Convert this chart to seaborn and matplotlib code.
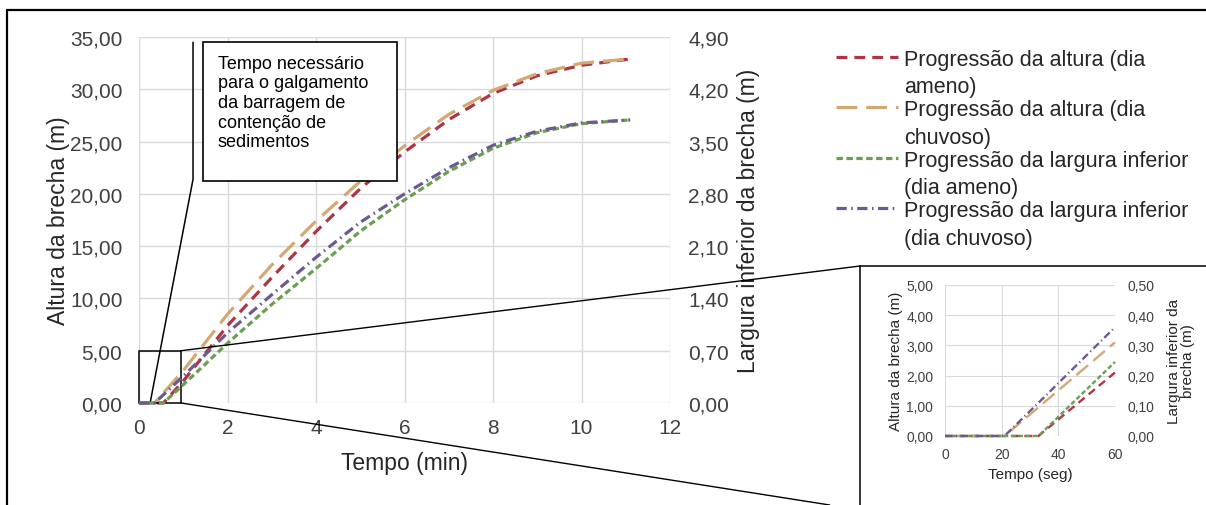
import matplotlib
matplotlib.use("Agg")
import matplotlib.pyplot as plt
import pandas as pd
import seaborn as sns
from matplotlib.legend_handler import HandlerLine2D
from matplotlib.lines import Line2D
from matplotlib.patches import ConnectionPatch, Rectangle
from matplotlib.ticker import FuncFormatter

# main chart, time in minutes
tempo_min = [0, 0.35, 0.55, 1, 2, 3, 4, 5, 6, 7, 8, 9, 10, 11.1]
altura_ameno = [0, 0, 0, 2.1, 7.4, 12.0, 16.4, 20.5, 24.0, 27.1, 29.6, 31.3, 32.3, 32.9]
altura_chuvoso = [0, 0, 0.95, 3.1, 8.5, 13.2, 17.4, 21.2, 24.6, 27.6, 29.9, 31.5, 32.5, 32.9]
largura_ameno = [0, 0, 0, 0.245, 0.80, 1.32, 1.80, 2.30, 2.72, 3.10, 3.41, 3.62, 3.74, 3.79]
largura_chuvoso = [0, 0, 0.11, 0.36, 0.94, 1.45, 1.95, 2.42, 2.80, 3.15, 3.45, 3.64, 3.75, 3.79]

# inset: first minute, in seconds
n_inset = 4
tempo_seg = [t * 60 for t in tempo_min[:n_inset]]

labels = [
    "Progressão da altura (dia\nameno)",
    "Progressão da altura (dia\nchuvoso)",
    "Progressão da largura inferior\n(dia ameno)",
    "Progressão da largura inferior\n(dia chuvoso)",
]
colors = ["#ad3546", "#d3a874", "#6a9f52", "#6c5a8e"]
styles = [(0, (3.4, 2.2)), (0, (6.5, 2.8)), (0, (2.0, 1.1)), (0, (3.2, 1.4, 0.5, 1.4))]

annot_text = "Tempo necessário\npara o galgamento\nda barragem de\ncontenção de\nsedimentos"

sns.set_style("white")
plt.rcParams["font.family"] = ["Liberation Sans", "DejaVu Sans"]

TXT = "#404040"
LAB = "#262626"
GRID = "#d9d9d9"


def comma(dec):
    return FuncFormatter(lambda v, p: f"{v:.{dec}f}".replace(".", ","))


def style_axes(ax, size, pad):
    for s in ax.spines.values():
        s.set_visible(False)
    ax.tick_params(length=0, labelsize=size, labelcolor=TXT, pad=pad)


def draw(ax, ax2, t, k=None, lw=2.3):
    series = [altura_ameno, altura_chuvoso, largura_ameno, largura_chuvoso]
    for i, vals in enumerate(series):
        target = ax if i < 2 else ax2
        y = vals if k is None else vals[:k]
        df = pd.DataFrame({"t": t, "v": y})
        sns.lineplot(data=df, x="t", y="v", ax=target, color=colors[i], lw=lw,
                     linestyle=styles[i], legend=False, clip_on=False, estimator=None, sort=False)


class TopLineHandler(HandlerLine2D):
    # put the legend sample next to the first line of a two-line label
    def create_artists(self, legend, orig_handle, xdescent, ydescent, width, height, fontsize, trans):
        arts = super().create_artists(legend, orig_handle, xdescent, ydescent, width, height,
                                      fontsize, trans)
        for a in arts:
            a.set_ydata([y + 0.78 * fontsize for y in a.get_ydata()])
        return arts


fig = plt.figure(figsize=(12.06, 5.06), dpi=100)

# main axes
ax = fig.add_axes([0.1153, 0.2016, 0.4403, 0.7233])
ax2 = ax.twinx()
draw(ax, ax2, tempo_min)

ax.set_xlim(0, 12)
ax.set_ylim(0, 35)
ax.set_xticks(range(0, 13, 2))
ax.set_yticks(range(0, 36, 5))
ax2.set_ylim(0, 4.9)
ax2.set_yticks([i * 0.7 for i in range(8)])
ax.yaxis.set_major_formatter(comma(2))
ax2.yaxis.set_major_formatter(comma(2))
ax.grid(True, color=GRID, lw=1)
ax2.grid(False)
style_axes(ax, 15, 12)
style_axes(ax2, 15, 13)
ax.tick_params(axis="x", pad=11)
ax.set_xlabel("Tempo (min)", fontsize=16.5, color=LAB, labelpad=10)
ax.set_ylabel("Altura da brecha (m)", fontsize=16.5, color=LAB, labelpad=0)
ax2.set_ylabel("Largura inferior da brecha (m)", fontsize=16.5, color=LAB, labelpad=6)

# zoom box and leader line
ax.add_patch(Rectangle((0, 0), 0.95, 5, fill=False, ec="black", lw=1.1, clip_on=False, zorder=4))
ax.plot([1.22, 1.22, 0.25], [34.5, 21.4, 0], color="black", lw=1.1, clip_on=False, zorder=4)
fig.add_artist(Rectangle((1.45, 21.2), 4.38, 13.3, transform=ax.transData, fc="white",
                         ec="black", lw=1.2, zorder=5))
fig.text(1.78, 33.3, annot_text, transform=ax.transData, fontsize=13, va="top", ha="left",
         linespacing=1.2, color="black", zorder=6)

# legend
handles = [Line2D([], [], color=colors[i], lw=2.3, linestyle=styles[i]) for i in range(4)]
leg = fig.legend(handles, labels, loc="upper left", bbox_to_anchor=(0.677, 0.94), frameon=False,
                 fontsize=15.5, handlelength=2.9, handletextpad=0.25, labelspacing=0.1,
                 labelcolor=LAB, handler_map={Line2D: TopLineHandler()})
for t in leg.get_texts():
    t.set_linespacing(1.4)

# inset
axi = fig.add_axes([0.7836, 0.1364, 0.1409, 0.2984])
axi2 = axi.twinx()
draw(axi, axi2, tempo_seg, n_inset, lw=1.7)
axi.set_xlim(0, 60)
axi.set_ylim(0, 5)
axi.set_xticks([0, 20, 40, 60])
axi.set_yticks(range(0, 6))
axi2.set_ylim(0, 0.5)
axi2.set_yticks([i * 0.1 for i in range(6)])
axi.yaxis.set_major_formatter(comma(2))
axi2.yaxis.set_major_formatter(comma(2))
axi.grid(True, color=GRID, lw=0.8)
axi2.grid(False)
style_axes(axi, 10, 8.5)
style_axes(axi2, 10, 9)
axi.tick_params(axis="x", pad=8)
axi.set_xlabel("Tempo (seg)", fontsize=11, color=LAB, labelpad=4)
axi.set_ylabel("Altura da brecha (m)", fontsize=11, color=LAB, labelpad=2)
axi2.set_ylabel("Largura inferior da\nbrecha (m)", fontsize=11, color=LAB, labelpad=9,
                linespacing=1.0)

# frames and connectors
fx, fy = 0.0058, 0.978
fig.add_artist(Line2D([fx, fx], [0, fy], color="black", lw=1.6))
fig.add_artist(Line2D([fx, 1], [fy, fy], color="black", lw=1.6))
ix, iy = 0.7131, 0.4723
fig.add_artist(Line2D([ix, ix], [0, iy], color="black", lw=1.1))
fig.add_artist(Line2D([ix, 1], [iy, iy], color="black", lw=1.1))
for xyA, xyB in [((0.95, 5), (ix, iy)), ((0.95, 0), (0.688, 0))]:
    fig.add_artist(ConnectionPatch(xyA=xyA, coordsA=ax.transData, xyB=xyB,
                                   coordsB=fig.transFigure, color="black", lw=1.0))

fig.savefig("out.png", dpi=100)
